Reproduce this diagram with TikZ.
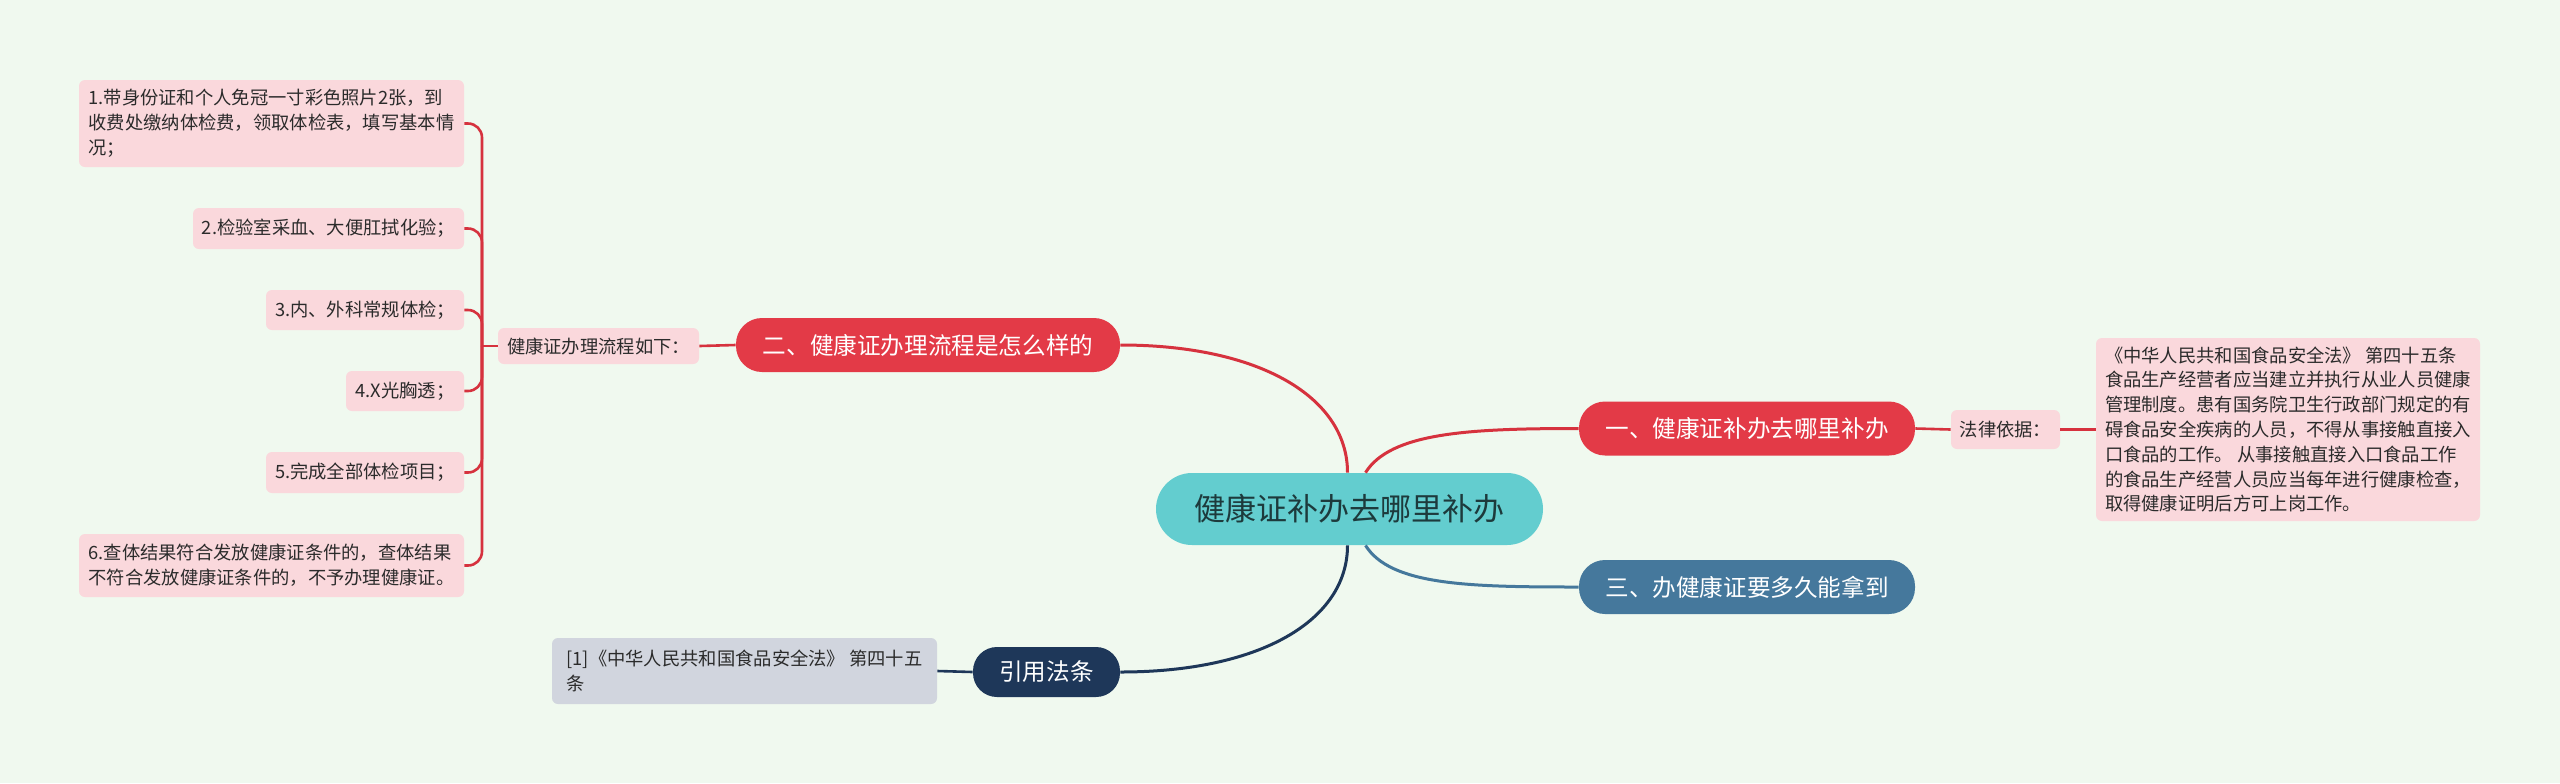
\documentclass[tikz,border=0pt]{standalone}
\usepackage{fontspec}
\setmainfont{Noto Sans CJK SC}
\usetikzlibrary{calc}
\definecolor{bg}{HTML}{F0F9EF}
\definecolor{centerfill}{HTML}{63CDCF}
\definecolor{centertxt}{HTML}{1D3A3C}
\definecolor{redbr}{HTML}{E33A47}
\definecolor{redline}{HTML}{D6323E}
\definecolor{bluebr}{HTML}{45789C}
\definecolor{navybr}{HTML}{1E3759}
\definecolor{pinkbox}{HTML}{FAD8DC}
\definecolor{greybox}{HTML}{D1D5DE}
\definecolor{txt}{HTML}{2B2B2B}
\begin{document}
\begin{tikzpicture}[x=0.5pt,y=-0.5pt,
  base/.style={inner sep=0pt, align=center},
  mainbox/.style={base, rounded corners=13pt, text=white, font=\fontsize{11.8}{14}\selectfont, minimum height=27pt},
  subbox/.style={base, rounded corners=3pt, fill=pinkbox, text=txt, font=\fontsize{9.15}{12.4}\selectfont},
  multibox/.style={subbox, align=left},
  redconn/.style={draw=redline, line width=1.3pt},
  mainconn/.style={line width=1.5pt}
]
\fill[bg] (0,0) rectangle (2560,783);

% central
\node[base, fill=centerfill, text=centertxt, rounded corners=18pt, minimum width=193.5pt, minimum height=36pt, font=\fontsize{15.5}{18}\selectfont] (c) at (1349.5,509) {健康证补办去哪里补办};

% main branches
\node[mainbox, fill=redbr, minimum width=192pt] (b2) at (928,345) {二、健康证办理流程是怎么样的};
\node[mainbox, fill=redbr, minimum width=168pt] (b1) at (1747,428.5) {一、健康证补办去哪里补办};
\node[mainbox, fill=bluebr, minimum width=168pt] (b3) at (1747,587) {三、办健康证要多久能拿到};
\node[mainbox, fill=navybr, minimum width=73.5pt, minimum height=25pt, rounded corners=12pt] (b4) at (1046.5,672) {引用法条};

% branch 2 children
\node[subbox, minimum width=100.5pt, minimum height=18pt] (lab) at (598.5,346) {健康证办理流程如下：};
\node[multibox, minimum width=192.5pt, minimum height=43.5pt] (i1) at (271.5,123.5) {1.带身份证和个人免冠一寸彩色照片2张，到\\收费处缴纳体检费，领取体检表，填写基本情\\况；};
\node[subbox, minimum width=135.5pt, minimum height=20.5pt] (i2) at (328.5,228.5) {2.检验室采血、大便肛拭化验；};
\node[subbox, minimum width=99pt, minimum height=20pt] (i3) at (365,310) {3.内、外科常规体检；};
\node[subbox, minimum width=59pt, minimum height=20pt] (i4) at (405,391) {4.X光胸透；};
\node[subbox, minimum width=99pt, minimum height=20.5pt] (i5) at (365,472.5) {5.完成全部体检项目；};
\node[multibox, minimum width=192.5pt, minimum height=31.5pt] (i6) at (271.5,565.5) {6.查体结果符合发放健康证条件的，查体结果\\不符合发放健康证条件的，不予办理健康证。};
\coordinate (j) at (482,346);

% branch 1 children
\node[subbox, minimum width=54.5pt, minimum height=19.5pt] (law) at (2005.5,429.5) {法律依据：};
\node[multibox, minimum width=192pt, minimum height=91.5pt] (lawtxt) at (2288,429.5) {《中华人民共和国食品安全法》 第四十五条\\食品生产经营者应当建立并执行从业人员健康\\管理制度。患有国务院卫生行政部门规定的有\\碍食品安全疾病的人员，不得从事接触直接入\\口食品的工作。 从事接触直接入口食品工作\\的食品生产经营人员应当每年进行健康检查，\\取得健康证明后方可上岗工作。};

% branch 4 child
\node[multibox, fill=greybox, minimum width=192.5pt, minimum height=33pt] (ref) at (744.5,671) {[1]《中华人民共和国食品安全法》 第四十五\\条};

% main connectors
\draw[mainconn, draw=redline] ([xshift=-1pt]c.north) .. controls ($([xshift=-1pt]c.north)+(0,-75)$) and ($(b2.east)+(140,0)$) .. (b2.east);
\draw[mainconn, draw=redline] ([xshift=8pt]c.north) .. controls ($([xshift=8pt]c.north)+(25,-40)$) and ($(b1.west)+(-110,0)$) .. (b1.west);
\draw[mainconn, draw=bluebr] ([xshift=8pt]c.south) .. controls ($([xshift=8pt]c.south)+(25,40)$) and ($(b3.west)+(-110,0)$) .. (b3.west);
\draw[mainconn, draw=navybr] ([xshift=-1pt]c.south) .. controls ($([xshift=-1pt]c.south)+(0,75)$) and ($(b4.east)+(140,0)$) .. (b4.east);

% branch 2 connectors
\draw[redconn] (b2.west) -- (lab.east);
\draw[redconn] (lab.west) -- (j);
\foreach \n in {i1,i2,i3,i4,i5,i6}{
  \draw[redconn, rounded corners=7pt] (j) |- (\n.east);
}

% branch 1 connectors
\draw[redconn] (b1.east) -- (law.west);
\draw[redconn] (law.east) -- (lawtxt.west);

% branch 4 connector
\draw[draw=navybr, line width=1.3pt] (b4.west) -- (ref.east);
\end{tikzpicture}
\end{document}
